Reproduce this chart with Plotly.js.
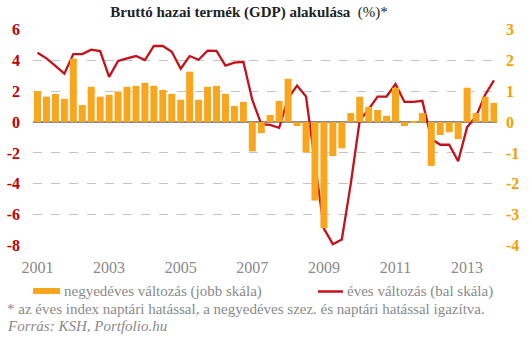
<!DOCTYPE html>
<html>
<head>
<meta charset="utf-8">
<script src="https://cdn.plot.ly/plotly-3.0.1.min.js"></script>
<style>html,body{margin:0;padding:0;background:#fff;}#chart{width:531px;height:342px;}</style>
</head>
<body>
<div id="chart"></div>
<script>
// Quarters 2001 Q1 .. 2013 Q4
const years = [2001,2002,2003,2004,2005,2006,2007,2008,2009,2010,2011,2012,2013];
const quarterNames = ['Q1','Q2','Q3','Q4'];
const categories = [];
years.forEach(y => quarterNames.forEach(q => categories.push(y + ' ' + q)));

// negyedéves változás (jobb skála), %
const quarterlyChange = [
  1.00, 0.82, 0.91, 0.75,
  2.05, 0.55, 1.14, 0.82,
  0.88, 0.99, 1.14, 1.17,
  1.27, 1.17, 1.04, 0.91,
  0.72, 1.63, 0.72, 1.14,
  1.17, 0.91, 0.52, 0.65,
  -0.95, -0.36, 0.23, 0.68,
  1.40, -0.13, -0.98, -2.54,
  -3.43, -1.10, -0.85, 0.29,
  0.82, 0.49, 0.39, 0.20,
  1.11, -0.13, 0.03, 0.29,
  -1.42, -0.42, -0.33, -0.55,
  1.11, 0.29, 0.82, 0.62
];

// éves változás (bal skála), %
const annualChange = [
  4.48, 4.12, 3.63, 3.13,
  4.40, 4.40, 4.68, 4.59,
  2.92, 3.95, 4.12, 4.27,
  4.01, 4.92, 4.92, 4.55,
  3.45, 4.27, 4.03, 4.62,
  4.60, 3.65, 3.84, 3.90,
  1.43, -0.14, -0.18, -0.37,
  1.54, 2.36, 1.65, -2.50,
  -6.90, -7.90, -7.60, -4.00,
  0.10, 0.83, 1.65, 1.65,
  2.46, 1.30, 1.30, 1.37,
  -1.08, -1.47, -1.47, -2.54,
  -0.33, 0.36, 1.75, 2.70
];

const seriesNames = ['negyedéves változás (jobb skála)', 'éves változás (bal skála)'];
const xTickYears = [2001, 2003, 2005, 2007, 2009, 2011, 2013];
const xTickLabels = ['2001', '2003', '2005', '2007', '2009', '2011', '2013'];
const leftTicks = [6, 4, 2, 0, -2, -4, -6, -8];
const rightTicks = [3, 2, 1, 0, -1, -2, -3, -4];

// numeric position of each quarter
const xPos = categories.map(c => {
  const [y, q] = c.split(' ');
  return Number(y) + (Number(q.slice(1)) - 1) / 4;
});

const serif = 'Liberation Serif, DejaVu Serif, serif';
const orange = '#F9A61E';
const red = '#C5111B';
const gray = '#8a8a8a';

const traces = [
  {
    type: 'bar', name: seriesNames[0],
    x: xPos, y: quarterlyChange, yaxis: 'y2', width: 0.195,
    marker: {color: orange, line: {width: 0}},
    hoverinfo: 'x+y'
  },
  {
    type: 'scatter', mode: 'lines', name: seriesNames[1],
    x: xPos, y: annualChange, yaxis: 'y',
    line: {color: red, width: 2.3},
    hoverinfo: 'x+y'
  }
];

// paper y for a pixel row (plot area from y=29 to y=246)
const py = px => (246 - px) / 217;
const pxX = px => (px - 33) / 464;

const layout = {
  width: 531, height: 342,
  margin: {l: 33, r: 34, t: 29, b: 96, pad: 0},
  paper_bgcolor: '#fff', plot_bgcolor: '#fff',
  showlegend: false,
  title: {
    text: '<b>Bruttó hazai termék (GDP) alakulása</b>  (%)*',
    font: {family: serif, size: 15, color: '#222'},
    x: 0.469, xanchor: 'center', xref: 'container',
    y: 0.965, yanchor: 'middle', yref: 'container'
  },
  xaxis: {
    range: [2000.874, 2013.835],
    tickmode: 'array', tickvals: xTickYears, ticktext: xTickLabels,
    showgrid: false, zeroline: false, showline: false, ticks: '',
    tickfont: {family: serif, size: 16, color: gray},
    ticklabelstandoff: 10,
    fixedrange: true
  },
  yaxis: {
    range: [-8.02, 6.02],
    tickmode: 'array', tickvals: leftTicks, ticktext: leftTicks.map(v => '<b>' + v + '</b>'),
    showgrid: true, gridcolor: '#c4c4c4', griddash: 'dash', gridwidth: 1,
    zeroline: true, zerolinecolor: '#8c8c8c', zerolinewidth: 2,
    showline: false, ticks: '',
    tickfont: {family: serif, size: 16, color: '#C00000'},
    ticklabelstandoff: 12,
    fixedrange: true
  },
  yaxis2: {
    range: [-4.01, 3.01], overlaying: 'y', side: 'right',
    tickmode: 'array', tickvals: rightTicks, ticktext: rightTicks.map(v => '<b>' + v + '</b>'),
    showgrid: false, zeroline: false, showline: false, ticks: '',
    tickfont: {family: serif, size: 16, color: '#F5A000'},
    ticklabelstandoff: 8,
    fixedrange: true
  },
  shapes: [
    {type: 'rect', xref: 'paper', yref: 'paper',
     x0: pxX(33), x1: pxX(60), y0: py(294), y1: py(288),
     fillcolor: orange, line: {width: 0}},
    {type: 'line', xref: 'paper', yref: 'paper',
     x0: pxX(318), x1: pxX(343), y0: py(291.5), y1: py(291.5),
     line: {color: red, width: 2.5}}
  ],
  annotations: [
    {
      text: seriesNames[0],
      xref: 'paper', yref: 'paper', x: pxX(62), xanchor: 'left',
      y: py(291), yanchor: 'middle', showarrow: false,
      font: {family: serif, size: 15, color: gray}
    },
    {
      text: seriesNames[1],
      xref: 'paper', yref: 'paper', x: pxX(345), xanchor: 'left',
      y: py(291), yanchor: 'middle', showarrow: false,
      font: {family: serif, size: 15, color: gray}
    },
    {
      text: '* az éves index naptári hatással, a negyedéves szez. és naptári hatással igazítva.',
      xref: 'paper', yref: 'paper', x: pxX(5), xanchor: 'left',
      y: py(309), yanchor: 'middle', showarrow: false,
      font: {family: serif, size: 15, color: gray}
    },
    {
      text: '<i>Forrás: KSH, Portfolio.hu</i>',
      xref: 'paper', yref: 'paper', x: pxX(5), xanchor: 'left',
      y: py(326), yanchor: 'middle', showarrow: false,
      font: {family: serif, size: 15, color: gray}
    }
  ]
};

Plotly.newPlot('chart', traces, layout, {displayModeBar: false});
</script>
</body>
</html>
